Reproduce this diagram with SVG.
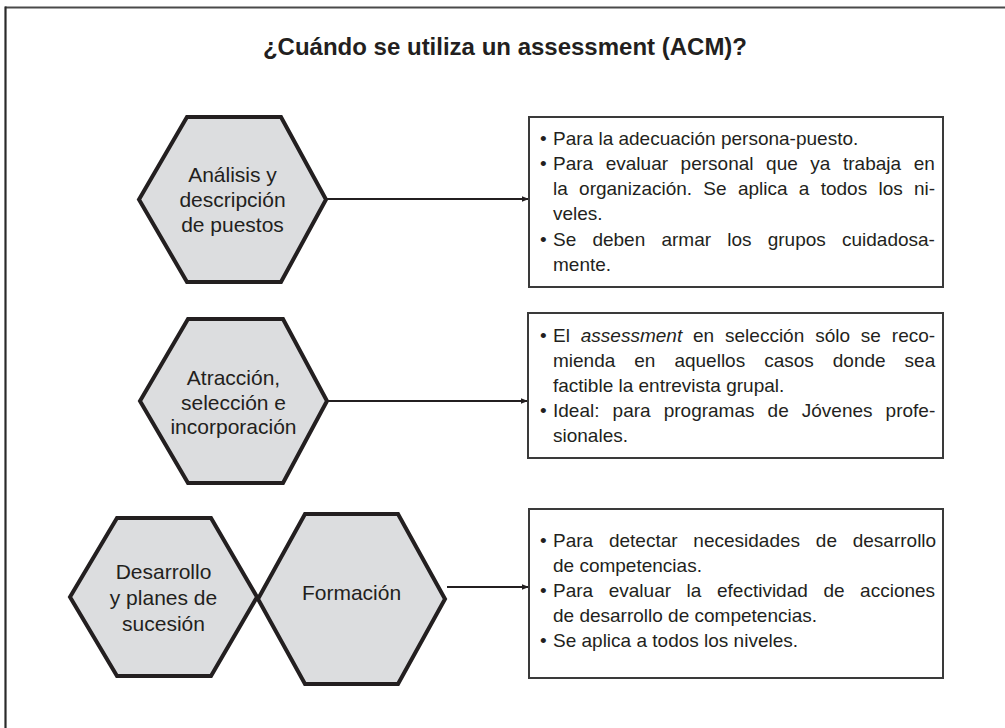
<svg xmlns="http://www.w3.org/2000/svg" width="1005" height="728" viewBox="0 0 1005 728">
<defs>
<style>
.hex{fill:#dcdddf;stroke:#231f20;stroke-width:4;stroke-linejoin:miter}
.ht{font-family:"Liberation Sans",Arial,sans-serif;font-size:21px;fill:#231f20;text-anchor:middle}
.box{fill:#fff;stroke:#3a3a3a;stroke-width:2}
.bt{font-family:"Liberation Sans",Arial,sans-serif;font-size:19px;fill:#231f20}
.bul{font-family:"Liberation Sans",Arial,sans-serif;font-size:19px;fill:#231f20}
.conn{stroke:#231f20;stroke-width:1.8;fill:none}
.title{font-family:"Liberation Sans",Arial,sans-serif;font-size:24px;font-weight:bold;fill:#231f20;text-anchor:middle}
</style>
<marker id="arr" viewBox="0 0 10 10" refX="10" refY="5" markerWidth="4" markerHeight="4" orient="auto" markerUnits="strokeWidth">
<path d="M0,1 L10,5 L0,9 z" fill="#231f20"/>
</marker>
</defs>
<rect x="0" y="0" width="1005" height="728" fill="#fff"/>
<g id="frame">
<line x1="5" y1="7.5" x2="1005" y2="7.5" stroke="#4a4a4a" stroke-width="2.2"/>
<line x1="5.5" y1="6.5" x2="5.5" y2="728" stroke="#2a2a2a" stroke-width="2.2"/>
</g>
<text class="title" x="505" y="55">¿Cuándo se utiliza un assessment (ACM)?</text>

<g id="connectors">
<line class="conn" x1="327" y1="199" x2="529" y2="199" marker-end="url(#arr)"/>
<line class="conn" x1="328" y1="401" x2="528" y2="401" marker-end="url(#arr)"/>
<line class="conn" x1="447" y1="587" x2="529" y2="587" marker-end="url(#arr)"/>
</g>

<g id="hex-analisis">
<polygon class="hex" points="139,199.5 187,117 281,117 326,199.5 281,282 187,282"/>
<text class="ht" x="232.5" y="182">Análisis y</text>
<text class="ht" x="232.5" y="207">descripción</text>
<text class="ht" x="232.5" y="232">de puestos</text>
</g>

<g id="hex-atraccion">
<polygon class="hex" points="140,401 188,319 283,319 327,401 283,483 188,483"/>
<text class="ht" x="233.5" y="385">Atracción,</text>
<text class="ht" x="233.5" y="410">selección e</text>
<text class="ht" x="233.5" y="434">incorporación</text>
</g>

<g id="hex-desarrollo">
<polygon class="hex" points="70,597 117,518 211,518 257,597 211,676 117,676"/>
<text class="ht" x="163.5" y="579">Desarrollo</text>
<text class="ht" x="163.5" y="605">y planes de</text>
<text class="ht" x="163.5" y="631">sucesión</text>
</g>

<g id="hex-formacion">
<polygon class="hex" points="258,599 305,514 398,514 445,599 398,684 305,684"/>
<text class="ht" x="351.5" y="600">Formación</text>
</g>

<g id="box-1">
<rect class="box" x="529" y="117" width="414" height="170"/>
<text class="bul" x="540" y="145">•</text>
<text class="bt" x="553" y="145">Para la adecuación persona-puesto.</text>
<text class="bul" x="540" y="170">•</text>
<text class="bt" x="553" y="170" word-spacing="7.3">Para evaluar personal que ya trabaja en</text>
<text class="bt" x="553" y="195" word-spacing="6">la organización. Se aplica a todos los ni-</text>
<text class="bt" x="553" y="220">veles.</text>
<text class="bul" x="540" y="246">•</text>
<text class="bt" x="553" y="246" word-spacing="10.9">Se deben armar los grupos cuidadosa-</text>
<text class="bt" x="553" y="271">mente.</text>
</g>

<g id="box-2">
<rect class="box" x="528" y="313" width="415" height="145"/>
<text class="bul" x="540" y="342">•</text>
<text class="bt" x="553" y="342" word-spacing="5.6">El <tspan font-style="italic">assessment</tspan> en selección sólo se reco-</text>
<text class="bt" x="553" y="367" word-spacing="13.7">mienda en aquellos casos donde sea</text>
<text class="bt" x="553" y="392">factible la entrevista grupal.</text>
<text class="bul" x="540" y="417">•</text>
<text class="bt" x="553" y="417" word-spacing="7.8">Ideal: para programas de Jóvenes profe-</text>
<text class="bt" x="553" y="442">sionales.</text>
</g>

<g id="box-3">
<rect class="box" x="529" y="509" width="414" height="169"/>
<text class="bul" x="540" y="547">•</text>
<text class="bt" x="553" y="547" word-spacing="10.5">Para detectar necesidades de desarrollo</text>
<text class="bt" x="553" y="572">de competencias.</text>
<text class="bul" x="540" y="597">•</text>
<text class="bt" x="553" y="597" word-spacing="10.3">Para evaluar la efectividad de acciones</text>
<text class="bt" x="553" y="622">de desarrollo de competencias.</text>
<text class="bul" x="540" y="647">•</text>
<text class="bt" x="553" y="647">Se aplica a todos los niveles.</text>
</g>
</svg>
